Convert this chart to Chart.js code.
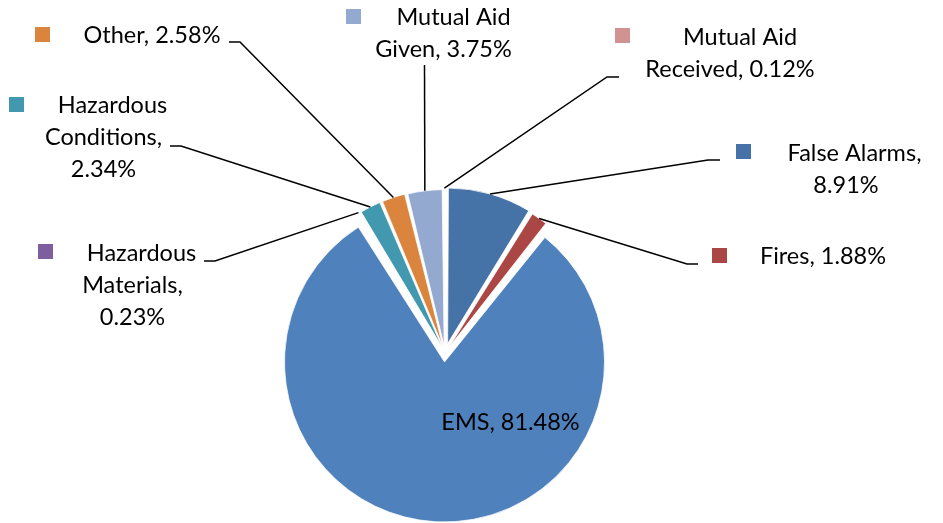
<!DOCTYPE html>
<html>
<head>
<meta charset="utf-8">
<script src="https://cdn.jsdelivr.net/npm/chart.js@4.4.1/dist/chart.umd.min.js"></script>
<style>
  html, body { margin: 0; padding: 0; background: #fff; }
  #wrap { width: 943px; height: 523px; position: relative; }
</style>
</head>
<body>
<div id="wrap"><canvas id="incident-pie"></canvas></div>
<script>
// Slices go clockwise from 12 o'clock
const categories = ['False Alarms', 'Fires', 'EMS', 'Hazardous Materials', 'Hazardous Conditions', 'Other', 'Mutual Aid Given', 'Mutual Aid Received'];
const percentages = [8.91, 1.88, 81.48, 0.23, 2.34, 2.58, 3.75, 0.12];

const sliceColors = ['#4572A7', '#AA4643', '#4F81BD', '#7D5FA0', '#4198AF', '#DB843D', '#93A9CF', '#D19392'];
// explode distance (Chart.js moves an arc by offset / 4)
const sliceOffsets = [39, 28, 36, 28, 28, 28, 28, 28];

const FONT = '23.5px Lato';
const LINE_H = 32;

// where each callout sits; leader runs from the stub to the slice edge
const labelLayout = [
  { cx: 846, y: 153, dx: 8.5, wrap: 155, key: [736, 144], stub: [[720, 160], [708, 160]] },
  { cx: 823, y: 256, dx: 0, wrap: 200, key: [712, 248], stub: [[698, 264], [687, 264]] },
  { cx: 510.5, y: 422, dx: 0, wrap: 200, key: null, stub: null },
  { cx: 132.5, y: 253, dx: 9, wrap: 135, key: [38, 244], stub: [[204, 261], [215, 261]] },
  { cx: 103.5, y: 105, dx: 9, wrap: 135, key: [9, 97], stub: [[170, 146], [181, 146]] },
  { cx: 152, y: 35, dx: 0, wrap: 200, key: [35, 27], stub: [[229, 42], [240, 42]] },
  { cx: 443.5, y: 17, dx: 10, wrap: 155, key: [346, 9], stub: [[424.5, 65]] },
  { cx: 730, y: 37, dx: 10, wrap: 190, key: [615, 28], stub: [[619, 77], [607, 77]] },
];

function wrapWords(ctx, text, maxWidth) {
  const words = text.split(' ');
  const lines = [];
  let line = '';
  words.forEach((w) => {
    const test = line ? line + ' ' + w : w;
    if (line && ctx.measureText(test).width > maxWidth) {
      lines.push(line);
      line = w;
    } else {
      line = test;
    }
  });
  if (line) { lines.push(line); }
  return lines;
}

const calloutPlugin = {
  id: 'callouts',
  afterDatasetsDraw(chart) {
    const ctx = chart.ctx;
    const meta = chart.getDatasetMeta(0);
    ctx.save();
    ctx.font = FONT;
    ctx.fillStyle = '#000';
    ctx.strokeStyle = '#000';
    ctx.lineWidth = 1.5;
    ctx.textAlign = 'center';
    ctx.textBaseline = 'alphabetic';

    meta.data.forEach((arc, i) => {
      const spot = labelLayout[i];
      const p = arc.getProps(['x', 'y', 'startAngle', 'endAngle', 'outerRadius', 'circumference'], true);

      // same shift Chart.js applies when it draws an offset arc
      const shift = (arc.options.offset || 0) / 4;
      const fix = 1 - Math.sin(Math.min(Math.PI, p.circumference));
      const mid = (p.startAngle + p.endAngle) / 2;
      const reach = shift + p.outerRadius + shift * fix;
      const ex = p.x + Math.cos(mid) * reach;
      const ey = p.y + Math.sin(mid) * reach;

      if (spot.stub) {
        ctx.beginPath();
        ctx.moveTo(spot.stub[0][0], spot.stub[0][1]);
        spot.stub.slice(1).forEach((pt) => ctx.lineTo(pt[0], pt[1]));
        ctx.lineTo(ex, ey);
        ctx.stroke();
      }

      if (spot.key) {
        ctx.fillStyle = sliceColors[i];
        ctx.fillRect(spot.key[0], spot.key[1], 15, 15);
        ctx.fillStyle = '#000';
      }

      const text = categories[i] + ', ' + percentages[i].toFixed(2) + '%';
      const lines = wrapWords(ctx, text, spot.wrap);
      lines.forEach((ln, k) => {
        const x = spot.cx + (k === 0 && lines.length > 1 ? spot.dx : 0);
        ctx.fillText(ln, x, spot.y + 8 + k * LINE_H);
      });
    });
    ctx.restore();
  }
};

function initIncidentPie() {
  const el = document.getElementById('incident-pie');
  if (!el) { return; }

  new Chart(el.getContext('2d'), {
    type: 'pie',
    data: {
      labels: categories,
      datasets: [{
        data: percentages,
        backgroundColor: sliceColors,
        borderColor: '#ffffff',
        borderWidth: 0.75,
        offset: sliceOffsets,
        radius: 151,
      }],
    },
    options: {
      responsive: true,
      maintainAspectRatio: false,
      animation: false,
      events: [],
      layout: { padding: { left: 0, right: 53, top: 183, bottom: 0 } },
      plugins: {
        legend: { display: false },
        tooltip: { enabled: false },
      },
    },
    plugins: [calloutPlugin],
  });
}

if (document.readyState === 'loading') {
  document.addEventListener('DOMContentLoaded', initIncidentPie, { once: true });
} else {
  initIncidentPie();
}
</script>
</body>
</html>
